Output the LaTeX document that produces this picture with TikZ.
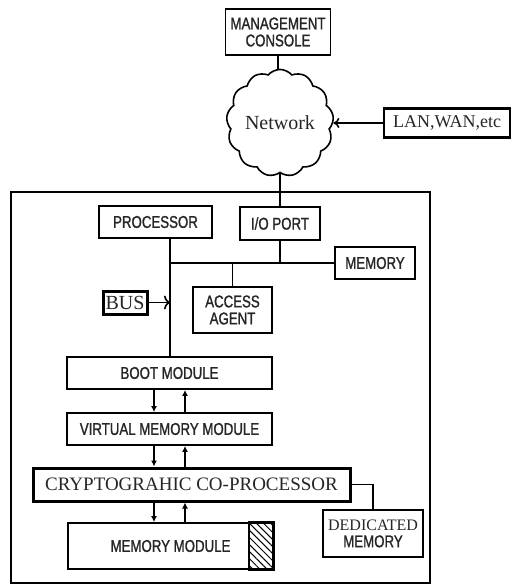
\documentclass[tikz,border=0pt]{standalone}
\usepackage{fontspec}
\setmainfont{Liberation Serif}
\newfontfamily\narrowsf[FakeStretch=0.78, FakeBold=1.2]{Liberation Sans}
\usetikzlibrary{positioning, arrows.meta, shapes.symbols, patterns.meta}

\begin{document}
\begin{tikzpicture}[
		x=1pt, y=-1pt,
		% Define styles for the nodes
		blockbox/.style={
			rectangle, draw=black, line width=1.8pt, fill=white, inner sep=0pt,
			text=black!85, align=center,
			font=\narrowsf\fontsize{17}{17}\selectfont
		},
		serifbox/.style={
			blockbox, font=\fontsize{19}{21}\selectfont
		},
		netcloud/.style={
			cloud, cloud puffs=13, cloud puff arc=100, draw=black, line width=1.6pt,
			fill=white, inner sep=0pt, minimum width=90pt, minimum height=62pt,
			text=black!85, font=\fontsize{20}{22}\selectfont
		},
		link/.style={
			draw=black, line width=1.6pt
		},
		flow/.style={
			link, -{Latex[length=6pt, width=6pt]}, line width=1.4pt
		},
		hatch/.style={
			draw=black, line width=1.8pt,
			pattern={Lines[angle=-45, distance=5pt, line width=1pt]}
		}
		]
		\useasboundingbox (0,0) rectangle (511,585);
		
		% Outer frame of the platform
		\draw[line width=1.8pt] (11,192) rectangle (430,583);
		
		% Network side
		\node[blockbox, minimum width=105pt, minimum height=46pt] (console) at (278,32) {MANAGEMENT\\CONSOLE};
		\node[netcloud] (cloud) at (280,123) {Network};
		\node[serifbox, line width=2.4pt, minimum width=126pt, minimum height=29pt, font=\fontsize{18}{20}\selectfont] (lan) at (447,123) {LAN,WAN,etc};
		
		% Platform blocks
		\node[blockbox, minimum width=113pt, minimum height=32pt] (proc) at (155.5,222) {PROCESSOR};
		\node[blockbox, minimum width=80pt, minimum height=33pt] (io) at (280,223.5) {I/O PORT};
		\node[blockbox, minimum width=80pt, minimum height=32pt] (mem) at (375,263) {MEMORY};
		\node[blockbox, minimum width=79pt, minimum height=46pt] (access) at (232.5,310) {ACCESS\\AGENT};
		\node[serifbox, line width=3pt, minimum width=44pt, minimum height=23pt, font=\fontsize{20}{22}\selectfont] (bus) at (125,302.5) {BUS};
		\node[blockbox, minimum width=205pt, minimum height=32pt] (boot) at (169.5,373) {BOOT MODULE};
		\node[blockbox, minimum width=205pt, minimum height=32pt] (vmm) at (169.5,429) {VIRTUAL MEMORY MODULE};
		\node[serifbox, line width=3pt, minimum width=317pt, minimum height=33pt] (crypto) at (191.5,484.5) {CRYPTOGRAHIC CO-PROCESSOR};
		\node[blockbox, minimum width=100pt, minimum height=47pt] (dedmem) at (373,533.5) {{\rmfamily\fontsize{16}{16}\selectfont DEDICATED}\\MEMORY};
		\node[blockbox, minimum width=205pt, minimum height=46pt] (memmod) at (170.5,546) {MEMORY MODULE};
		\draw[hatch] ([xshift=-25pt]memmod.north east) rectangle (memmod.south east);
		
		% Bus and connections
		\coordinate (busL) at (170,263);
		\coordinate (dn) at (154,0);
		\coordinate (up) at (185,0);
		\draw[link] (console.south) -- (console.south |- cloud.north);
		\draw[link, -{To[length=6pt, width=10pt]}] (lan.west) -- (cloud.east |- lan.west);
		\draw[link] (cloud.south) -- (cloud.south |- io.north);
		\draw[link] (proc.south -| busL) -- (busL |- boot.north);
		\draw[link] (busL) -- (mem.west);
		\draw[link] (io.south) -- (io.south |- busL);
		\draw[link] (access.north) -- (access.north |- busL);
		\draw[link, -{To[length=6pt, width=14pt]}] (bus.east) -- (busL |- bus.east);
		\draw[link] (crypto.east) -| (dedmem.north);
		
		% Data paths between the module stack
		\foreach \upper/\lower in {boot/vmm, vmm/crypto, crypto/memmod} {
			\draw[flow] (\upper.south -| dn) -- (\lower.north -| dn);
			\draw[flow] (\lower.north -| up) -- (\upper.south -| up);
		}
		
	\end{tikzpicture}
\end{document}
